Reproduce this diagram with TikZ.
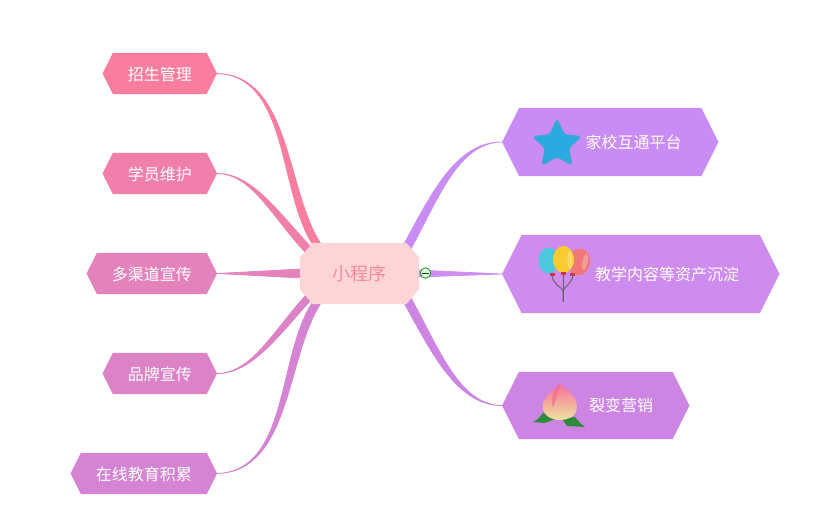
\documentclass[tikz,border=0pt]{standalone}
\usepackage{fontspec}
\setmainfont{Noto Sans CJK SC}
\usetikzlibrary{backgrounds,shapes.geometric}
\makeatletter
\pgfdeclareshape{hexabox}{
  \inheritsavedanchors[from=rectangle]
  \inheritanchorborder[from=rectangle]
  \inheritanchor[from=rectangle]{center}
  \inheritanchor[from=rectangle]{north}
  \inheritanchor[from=rectangle]{south}
  \inheritanchor[from=rectangle]{east}
  \inheritanchor[from=rectangle]{west}
  \backgroundpath{
    \southwest \pgf@xa=\pgf@x \pgf@ya=\pgf@y
    \northeast \pgf@xb=\pgf@x \pgf@yb=\pgf@y
    \pgf@yc=\pgf@yb \advance\pgf@yc by -\pgf@ya
    \pgf@yc=0.25\pgf@yc
    \pgf@xc=\pgf@ya \advance\pgf@xc by \pgf@yb \pgf@xc=0.5\pgf@xc
    \pgfpathmoveto{\pgfqpoint{\pgf@xa}{\pgf@xc}}
    \pgfmathsetlength{\pgfutil@tempdima}{\pgf@xa+\pgf@yc}
    \pgfmathsetlength{\pgfutil@tempdimb}{\pgf@xb-\pgf@yc}
    \pgfpathlineto{\pgfqpoint{\pgfutil@tempdima}{\pgf@yb}}
    \pgfpathlineto{\pgfqpoint{\pgfutil@tempdimb}{\pgf@yb}}
    \pgfpathlineto{\pgfqpoint{\pgf@xb}{\pgf@xc}}
    \pgfpathlineto{\pgfqpoint{\pgfutil@tempdimb}{\pgf@ya}}
    \pgfpathlineto{\pgfqpoint{\pgfutil@tempdima}{\pgf@ya}}
    \pgfpathclose
  }
}
\pgfdeclareshape{octabox}{
  \inheritsavedanchors[from=rectangle]
  \inheritanchorborder[from=rectangle]
  \inheritanchor[from=rectangle]{center}
  \inheritanchor[from=rectangle]{north}
  \inheritanchor[from=rectangle]{south}
  \inheritanchor[from=rectangle]{east}
  \inheritanchor[from=rectangle]{west}
  \backgroundpath{
    \southwest \pgf@xa=\pgf@x \pgf@ya=\pgf@y
    \northeast \pgf@xb=\pgf@x \pgf@yb=\pgf@y
    \pgfmathsetlength{\pgfutil@tempdima}{\pgf@xa+13pt}
    \pgfmathsetlength{\pgfutil@tempdimb}{\pgf@xb-13pt}
    \pgfmathsetlength{\pgf@xc}{\pgf@ya+15pt}
    \pgfmathsetlength{\pgf@yc}{\pgf@yb-15pt}
    \pgfpathmoveto{\pgfqpoint{\pgf@xa}{\pgf@xc}}
    \pgfpathlineto{\pgfqpoint{\pgf@xa}{\pgf@yc}}
    \pgfpathlineto{\pgfqpoint{\pgfutil@tempdima}{\pgf@yb}}
    \pgfpathlineto{\pgfqpoint{\pgfutil@tempdimb}{\pgf@yb}}
    \pgfpathlineto{\pgfqpoint{\pgf@xb}{\pgf@yc}}
    \pgfpathlineto{\pgfqpoint{\pgf@xb}{\pgf@xc}}
    \pgfpathlineto{\pgfqpoint{\pgfutil@tempdimb}{\pgf@ya}}
    \pgfpathlineto{\pgfqpoint{\pgfutil@tempdima}{\pgf@ya}}
    \pgfpathclose
  }
}
\makeatother
\definecolor{cA}{HTML}{F97D9E}
\definecolor{cB}{HTML}{F07FAB}
\definecolor{cC}{HTML}{E482BC}
\definecolor{cD}{HTML}{DC82C6}
\definecolor{cE}{HTML}{D583D3}
\definecolor{cF}{HTML}{C98CF5}
\definecolor{cG}{HTML}{CE8CEE}
\definecolor{cH}{HTML}{CC85E3}
\definecolor{rootfill}{HTML}{FCD5D7}
\definecolor{roottext}{HTML}{F98A9A}
\definecolor{starfill}{HTML}{2BAAE2}
\definecolor{starline}{HTML}{45A5CC}
\definecolor{balblue}{HTML}{4CC8DC}
\definecolor{balyellow}{HTML}{FBCB30}
\definecolor{balred}{HTML}{F07878}
\definecolor{balstring}{HTML}{6B5B6B}
\definecolor{knotred}{HTML}{C03A48}
\definecolor{leafgreen}{HTML}{2E8B3A}
\definecolor{peachtop}{HTML}{F8709A}
\definecolor{peachmid}{HTML}{F9B3A8}
\definecolor{peachlow}{HTML}{EEE2A0}
\definecolor{peachpetal}{HTML}{F65F90}
\newcommand{\lefttext}[1]{\raisebox{-1pt}[\height][\depth]{#1}}
\tikzset{
  topic/.style={shape=hexabox,inner sep=0pt,text=white,font=\fontsize{16pt}{18pt}\selectfont,anchor=west},
  leftopic/.style={shape=hexabox,inner sep=0pt,text=white,font=\fontsize{16pt}{18pt}\selectfont,anchor=east,minimum height=41pt},
  link/.style={draw=#1,fill=#1,line width=0.7pt,line join=round},
  knot/.style={fill=knotred},
  balloonstring/.style={draw=balstring,line width=0.9pt},
  gloss/.style={fill=white,fill opacity=0.28}
}
\begin{document}
\begin{tikzpicture}[x=1pt,y=-1pt]
\useasboundingbox (0,0) rectangle (831,521);
% root
\node[shape=octabox,fill=rootfill,inner sep=0pt,minimum width=119pt,minimum height=61pt,text=roottext,font=\fontsize{18pt}{20pt}\selectfont] (root) at (359.5,273.5) {小程序};
% topics
\node[leftopic,fill=cA,minimum width=114pt] (a) at (217,73.5) {\lefttext{招生管理}};
\node[leftopic,fill=cB,minimum width=114pt] (b) at (217,173.5) {\lefttext{学员维护}};
\node[leftopic,fill=cC,minimum width=130pt] (c) at (217,273.5) {\lefttext{多渠道宣传}};
\node[leftopic,fill=cD,minimum width=114pt] (d) at (217,373.5) {\lefttext{品牌宣传}};
\node[leftopic,fill=cE,minimum width=146pt] (e) at (217,473.5) {\lefttext{在线教育积累}};
\node[topic,fill=cF,minimum width=216pt,minimum height=68pt] (f) at (502,142) {\hspace*{47pt}家校互通平台};
\node[topic,fill=cG,minimum width=277pt,minimum height=78pt] (g) at (502,274) {\hspace*{53pt}教学内容等资产沉淀};
\node[topic,fill=cH,minimum width=187pt,minimum height=67pt] (h) at (502,405.5) {\hspace*{51pt}裂变营销};
% attachment points on the root outline
\coordinate (ra1) at (321,244); \coordinate (ra2) at (313,245);
\coordinate (rb1) at (311,247); \coordinate (rb2) at (305,252);
\coordinate (rc1) at (301,269); \coordinate (rc2) at (301,278);
\coordinate (rd1) at (306,295); \coordinate (rd2) at (312,299);
\coordinate (re1) at (312,303); \coordinate (re2) at (321,303);
\coordinate (rf1) at (404,244); \coordinate (rf2) at (411,249);
\coordinate (rg1) at (418,270); \coordinate (rg2) at (418,277);
\coordinate (rh1) at (411,298); \coordinate (rh2) at (404,303);
\begin{pgfonlayer}{background}
\draw[link=cA] (a.east) .. controls +(72,2.5) and +(-35,-53) .. (ra2) -- (ra1) .. controls +(-35,-53) and +(74,1.5) .. (a.east) -- cycle;
\draw[link=cB] (b.east) .. controls +(35,0.5) and +(-33,-35) .. (rb2) -- (rb1) .. controls +(-33,-35) and +(35,-0.5) .. (b.east) -- cycle;
\draw[link=cC] (c.east) -- (rc1) -- (rc2) -- cycle;
\draw[link=cD] (d.east) .. controls +(35,-0.5) and +(-33,36) .. (rd1) -- (rd2) .. controls +(-33,36) and +(35,0.5) .. (d.east) -- cycle;
\draw[link=cE] (e.east) .. controls +(72,-2.5) and +(-35,54) .. (re1) -- (re2) .. controls +(-35,54) and +(74,-1.5) .. (e.east) -- cycle;
\draw[link=cF] (f.west) .. controls +(-45,-0.5) and +(28,-52) .. (rf1) -- (rf2) .. controls +(28,-52) and +(-43,0.5) .. (f.west) -- cycle;
\draw[link=cG] (g.west) -- (rg1) -- (rg2) -- cycle;
\draw[link=cH] (h.west) .. controls +(-45,0.5) and +(28,50) .. (rh2) -- (rh1) .. controls +(28,50) and +(-43,-0.5) .. (h.west) -- cycle;
\end{pgfonlayer}
% collapse toggle
\node[circle,draw=green!50!black!80,line width=0.9pt,fill=green!12,minimum size=10.5pt,inner sep=0pt] (toggle) at (425.5,273) {};
\draw[black!70!green,line width=0.9pt] ([xshift=-3.5pt]toggle.center) -- ([xshift=3.5pt]toggle.center);
% star icon
\node[star,star points=5,star point ratio=2.1,minimum size=51pt,inner sep=0pt,rounded corners=3pt,fill=starfill,draw=starline,line width=1.2pt] (staricon) at (557,144.5) {};
% balloons
\draw[balloonstring] (563,302) -- (563,291) .. controls (561,286) and (553,285) .. (552,275);
\draw[balloonstring] (563,302) -- (563,273);
\draw[balloonstring] (563,291) .. controls (565,286) and (571,284) .. (573,276);
\fill[balred] (579,262) ellipse [x radius=11,y radius=13.5,rotate=-12];
\fill[gloss] (585,262) ellipse [x radius=2.5,y radius=8,rotate=-12];
\fill[balblue] (548.5,260.5) ellipse [x radius=10,y radius=13];
\fill[balyellow] (563.5,259.5) ellipse [x radius=10.5,y radius=13.5];
\fill[gloss] (570,260) ellipse [x radius=2.5,y radius=9];
\fill[knot] (549.5,273.5) rectangle (554.5,276);
\fill[knot] (561,272.5) rectangle (566,275);
\fill[knot] (570,273.5) rectangle (575,276);
% peach icon
\fill[leafgreen] (533,422) -- (538,419) -- (543,413) -- (555,419) -- (545,423) -- cycle;
\fill[leafgreen] (562,419) -- (575,417) -- (580,423) -- (585,427) -- (567,426) -- cycle;
\shade[top color=peachtop,middle color=peachmid,bottom color=peachlow] (560,384) .. controls (565,389) and (577,395) .. (577,407) .. controls (577,416) and (568,420) .. (560,420) .. controls (552,420) and (543,416) .. (543,407) .. controls (543,395) and (555,389) .. (560,384) -- cycle;
\fill[peachpetal,fill opacity=0.55] (560,384) .. controls (553,390) and (550,398) .. (553,408) .. controls (556,400) and (558,392) .. (560,384) -- cycle;
\end{tikzpicture}
\end{document}
